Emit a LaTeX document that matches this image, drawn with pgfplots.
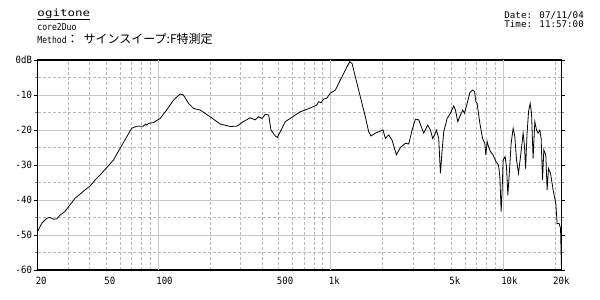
\documentclass[border=0pt]{standalone}
\usepackage{fontspec}
\usepackage{pgfplots}
\pgfplotsset{compat=1.18}
\setmainfont{DejaVu Sans Mono}
\newfontfamily\jp{Noto Sans CJK JP}
\newfontfamily\mono[FakeStretch=0.85]{DejaVu Sans Mono}
\newfontfamily\monotick[FakeStretch=0.9]{DejaVu Sans Mono}
\newfontfamily\monowide[FakeStretch=1.25]{DejaVu Sans Mono}
\newfontfamily\datefont{DejaVu Sans Mono}
\definecolor{gridsolid}{RGB}{200,200,200}
\definecolor{griddash}{RGB}{185,185,185}
\pgfplotstableread{
f db
20 -49.0
21.1 -46.7
22.6 -45.2
23.6 -45.0
24.7 -45.5
25.8 -45.4
27.0 -44.3
28.8 -43.3
30.8 -41.4
33.0 -39.5
35.3 -38.3
37.7 -37.1
40.3 -36.0
43.1 -34.3
46.0 -32.9
50.4 -30.7
55.0 -28.6
60.2 -25.2
65.8 -21.9
70.3 -19.5
75.2 -18.9
82.1 -18.9
84.5 -18.3
86.0 -18.6
87.8 -18.1
93.8 -17.9
102.6 -16.7
112 -14.3
123 -11.4
134 -9.7
140 -10.0
150 -12.4
160 -13.8
175 -14.3
200 -16.2
229 -18.3
262 -19.0
286 -18.9
312 -17.6
342 -16.5
365 -17.1
382 -16.2
400 -16.7
418 -15.5
437 -15.7
451 -20.0
477 -21.7
492 -22.1
510 -20.5
546 -17.6
583 -16.7
624 -15.7
667 -14.8
729 -14.1
796 -13.3
830 -12.9
852 -11.9
880 -12.2
910 -11.2
950 -10.9
996 -9.5
1064 -8.6
1138 -5.7
1216 -2.9
1288 -0.5
1331 -1.0
1390 -4.8
1486 -10.5
1589 -16.2
1661 -20.5
1715 -21.7
1816 -20.9
1942 -20.3
2013 -20.0
2076 -22.4
2170 -21.4
2270 -22.9
2405 -27.1
2538 -25.0
2713 -23.8
2836 -24.0
2967 -20.0
3100 -16.9
3240 -17.1
3463 -20.9
3654 -18.6
3788 -20.0
3906 -22.4
4011 -21.4
4104 -20.0
4232 -22.4
4330 -32.4
4430 -25.7
4526 -20.5
4736 -16.7
4950 -15.2
5172 -13.1
5292 -14.3
5458 -17.6
5658 -15.7
5834 -14.3
5970 -15.2
6188 -12.4
6410 -9.3
6650 -8.6
6830 -9.0
6950 -11.9
7070 -12.4
7330 -18.1
7600 -22.4
7830 -23.8
7940 -27.1
8080 -23.3
8230 -24.8
8450 -26.2
8750 -27.1
9070 -29.0
9400 -30.0
9570 -33.3
9740 -43.3
9870 -37.1
10000 -28.6
10270 -27.6
10460 -30.5
10650 -38.6
10830 -33.3
11130 -23.8
11430 -19.5
11690 -21.9
11960 -28.6
12280 -32.4
12610 -27.6
13060 -20.9
13310 -24.8
13490 -31.0
13770 -20.9
14040 -14.8
14340 -12.4
14610 -15.2
14920 -28.1
15270 -17.6
15620 -20.0
15950 -20.9
16320 -20.0
16610 -22.4
16920 -34.3
17220 -25.7
17680 -27.1
17990 -37.1
18330 -31.0
18830 -32.4
19490 -37.1
20210 -41.0
20560 -46.7
21120 -46.7
21520 -48.1
21800 -60
}\resp
\begin{document}
\begin{tikzpicture}
\useasboundingbox (0pt,0pt) rectangle (600pt,300pt);
\begin{axis}[
  at={(37.6pt,30pt)}, anchor=south west,
  scale only axis, width=523.9pt, height=210pt,
  xmode=log, xmin=20, xmax=21800, ymin=-60, ymax=0,
  axis line style={line width=1.6pt, black},
  xtick={20,50,100,500,1000,5000,10000,20000},
  xticklabels={20,50,100,500,1k,5k,10k,20k},
  minor xtick={30,40,50,60,70,80,90,200,300,400,500,600,700,800,900,2000,3000,4000,5000,6000,7000,8000,9000,20000},
  extra x ticks={100,1000,10000},
  extra x tick labels={},
  extra x tick style={grid=major, major tick length=0pt, major grid style={solid, color=gridsolid, line width=0.9pt}},
  xmajorgrids=false, xminorgrids=true,
  xtick style={draw=none},
  ytick={-60,-50,-40,-30,-20,-10,0},
  yticklabels={-60,-50,-40,-30,-20,-10,0dB},
  minor ytick={-55,-45,-35,-25,-15,-5},
  ymajorgrids=true, yminorgrids=true,
  xminorticks=false, yminorticks=false,
  tick align=outside, major tick length=4pt,
  major tick style={black, line width=0.8pt},
  major grid style={solid, color=gridsolid, line width=0.9pt},
  minor grid style={color=griddash, line width=0.6pt, dash pattern=on 3pt off 2pt},
  xticklabel style={font=\monotick\fontsize{10}{10}\selectfont, anchor=north west, inner sep=0pt, xshift=-2pt, yshift=-3pt},
  yticklabel style={font=\monotick\fontsize{10}{10}\selectfont, anchor=east, inner sep=0pt, xshift=-1.5pt},
  clip=true,
]
\addplot[black, line width=0.8pt] table[x=f, y=db] {\resp};
\end{axis}
\node[anchor=base west, inner sep=0pt, font=\monowide\fontsize{10}{10}\selectfont] at (37.3pt,283pt) {ogitone};
\draw[line width=0.8pt] (37.3pt,281pt) -- (90pt,281pt);
\node[anchor=base west, inner sep=0pt, font=\mono\fontsize{9.5}{9.5}\selectfont] at (37.3pt,269pt) {core2Duo};
\node[anchor=base west, inner sep=0pt, font=\mono\fontsize{9.5}{9.5}\selectfont] at (37.3pt,256pt) {Method{\jp\fontsize{12}{12}\selectfont ：\hspace{5pt}サインスイープ:F特測定}};
\node[anchor=base east, inner sep=0pt, font=\datefont\fontsize{9.2}{9.2}\selectfont] at (584pt,281.5pt) {Date: 07/11/04};
\node[anchor=base east, inner sep=0pt, font=\datefont\fontsize{9.2}{9.2}\selectfont] at (584pt,272pt) {Time: 11:57:00};
\end{tikzpicture}
\end{document}
